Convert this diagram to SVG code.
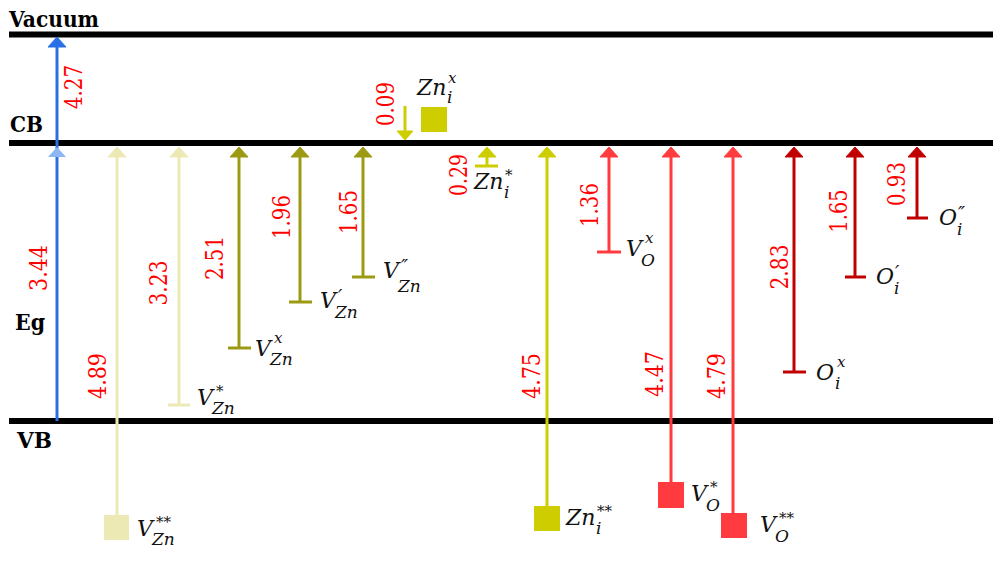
<svg xmlns="http://www.w3.org/2000/svg" xmlns:xlink="http://www.w3.org/1999/xlink" width="1000" height="569" viewBox="0 0 1000 569">
<style>
.band{stroke:#000;stroke-width:6}
.hdr{font-family:"DejaVu Serif",serif;font-weight:bold;font-size:22px;fill:#000}
.num{font-family:"DejaVu Serif",serif;font-size:25px;fill:#ff0000;text-anchor:middle}
.lbl{font-family:"DejaVu Serif",serif;font-style:italic;font-size:22px;fill:#111}
.sub{font-size:17px}
.sup{font-size:15px}
.prm{font-size:19px}
.shaft{stroke-width:3;fill:none}
.bar{stroke-width:3}
.blue{stroke:#2b6fe6;fill:#2b6fe6}
.blue2{fill:#8eb6f2}
.pale{stroke:#ede9b5;fill:#ede9b5}
.olive{stroke:#9c9a12;fill:#9c9a12}
.yel{stroke:#cdcd00;fill:#cdcd00}
.red{stroke:#ff3b3f;fill:#ff3b3f}
.dred{stroke:#c00000;fill:#c00000}
</style>
<defs>
<path id="ah" d="M0,0 L-9,10 L9,10 Z"/>
<path id="ahd" d="M0,0 L-8,-9 L8,-9 Z"/>
</defs>
<rect width="1000" height="569" fill="#fff"/>
<g id="bands">
<line class="band" x1="9" y1="34.5" x2="993" y2="34.5"/>
<line class="band" x1="9" y1="143" x2="993" y2="143"/>
<line class="band" x1="9" y1="421" x2="993" y2="421"/>
<text class="hdr" x="9" y="27" textLength="90" lengthAdjust="spacingAndGlyphs">Vacuum</text>
<text class="hdr" x="10" y="132" textLength="33" lengthAdjust="spacingAndGlyphs">CB</text>
<text class="hdr" x="15" y="330" textLength="30" lengthAdjust="spacingAndGlyphs">Eg</text>
<text class="hdr" x="17" y="448" textLength="35" lengthAdjust="spacingAndGlyphs">VB</text>
</g>
<g id="connectors">
<line class="shaft blue" x1="57" y1="421" x2="57" y2="45"/>
<use xlink:href="#ah" x="57" y="37" class="blue" stroke="none"/>
<use xlink:href="#ah" x="57" y="147" class="blue2"/>
<line class="shaft pale" x1="117" y1="520" x2="117" y2="155"/>
<use xlink:href="#ah" x="117" y="147" class="pale" stroke="none"/>
<line class="shaft pale" x1="179" y1="405" x2="179" y2="155"/>
<use xlink:href="#ah" x="179" y="147" class="pale" stroke="none"/>
<line class="bar pale" x1="168" y1="405" x2="190" y2="405"/>
<line class="shaft olive" x1="239" y1="348" x2="239" y2="155"/>
<use xlink:href="#ah" x="239" y="147" class="olive" stroke="none"/>
<line class="bar olive" x1="228" y1="348" x2="251" y2="348"/>
<line class="shaft olive" x1="300" y1="302" x2="300" y2="155"/>
<use xlink:href="#ah" x="300" y="147" class="olive" stroke="none"/>
<line class="bar olive" x1="289" y1="302" x2="312" y2="302"/>
<line class="shaft olive" x1="363" y1="277" x2="363" y2="155"/>
<use xlink:href="#ah" x="363" y="147" class="olive" stroke="none"/>
<line class="bar olive" x1="352" y1="277" x2="375" y2="277"/>
<line class="shaft yel" x1="405" y1="106" x2="405" y2="132"/>
<use xlink:href="#ahd" x="405" y="140" class="yel" stroke="none"/>
<line class="shaft yel" x1="487" y1="166" x2="487" y2="153"/>
<use xlink:href="#ah" x="487" y="147" class="yel" stroke="none"/>
<line class="bar yel" x1="475" y1="166" x2="498" y2="166"/>
<line class="shaft yel" x1="547" y1="510" x2="547" y2="155"/>
<use xlink:href="#ah" x="547" y="147" class="yel" stroke="none"/>
<line class="shaft red" x1="609" y1="252" x2="609" y2="155"/>
<use xlink:href="#ah" x="609" y="147" class="red" stroke="none"/>
<line class="bar red" x1="597" y1="252" x2="621" y2="252"/>
<line class="shaft red" x1="671" y1="485" x2="671" y2="155"/>
<use xlink:href="#ah" x="671" y="147" class="red" stroke="none"/>
<line class="shaft red" x1="733" y1="516" x2="733" y2="155"/>
<use xlink:href="#ah" x="733" y="147" class="red" stroke="none"/>
<line class="shaft dred" x1="794" y1="372" x2="794" y2="155"/>
<use xlink:href="#ah" x="794" y="147" class="dred" stroke="none"/>
<line class="bar dred" x1="783" y1="372" x2="806" y2="372"/>
<line class="shaft dred" x1="855" y1="277" x2="855" y2="155"/>
<use xlink:href="#ah" x="855" y="147" class="dred" stroke="none"/>
<line class="bar dred" x1="845" y1="277" x2="866" y2="277"/>
<line class="shaft dred" x1="917" y1="218" x2="917" y2="155"/>
<use xlink:href="#ah" x="917" y="147" class="dred" stroke="none"/>
<line class="bar dred" x1="907" y1="218" x2="928" y2="218"/>
</g>
<g id="values">
<text class="num" transform="translate(82,87) rotate(-90)" textLength="44" lengthAdjust="spacingAndGlyphs">4.27</text>
<text class="num" transform="translate(47,268) rotate(-90)" textLength="46" lengthAdjust="spacingAndGlyphs">3.44</text>
<text class="num" transform="translate(106,376) rotate(-90)" textLength="46" lengthAdjust="spacingAndGlyphs">4.89</text>
<text class="num" transform="translate(167,283) rotate(-90)" textLength="45" lengthAdjust="spacingAndGlyphs">3.23</text>
<text class="num" transform="translate(223,258) rotate(-90)" textLength="44" lengthAdjust="spacingAndGlyphs">2.51</text>
<text class="num" transform="translate(290,217) rotate(-90)" textLength="44" lengthAdjust="spacingAndGlyphs">1.96</text>
<text class="num" transform="translate(357,212) rotate(-90)" textLength="44" lengthAdjust="spacingAndGlyphs">1.65</text>
<text class="num" transform="translate(394,104) rotate(-90)" textLength="44" lengthAdjust="spacingAndGlyphs">0.09</text>
<text class="num" transform="translate(467,175) rotate(-90)" textLength="42" lengthAdjust="spacingAndGlyphs">0.29</text>
<text class="num" transform="translate(540,376) rotate(-90)" textLength="46" lengthAdjust="spacingAndGlyphs">4.75</text>
<text class="num" transform="translate(598,205) rotate(-90)" textLength="44" lengthAdjust="spacingAndGlyphs">1.36</text>
<text class="num" transform="translate(663,374) rotate(-90)" textLength="46" lengthAdjust="spacingAndGlyphs">4.47</text>
<text class="num" transform="translate(725,376) rotate(-90)" textLength="46" lengthAdjust="spacingAndGlyphs">4.79</text>
<text class="num" transform="translate(788,267) rotate(-90)" textLength="45" lengthAdjust="spacingAndGlyphs">2.83</text>
<text class="num" transform="translate(847,211) rotate(-90)" textLength="43" lengthAdjust="spacingAndGlyphs">1.65</text>
<text class="num" transform="translate(905,184) rotate(-90)" textLength="44" lengthAdjust="spacingAndGlyphs">0.93</text>
</g>
<g id="node-VZn2">
<rect x="104" y="515" width="25" height="25" fill="#ede9b5"/>
<text class="lbl" x="137" y="536">V<tspan class="sup" x="156" y="527">**</tspan><tspan class="sub" x="152" y="545">Zn</tspan></text>
</g>
<g id="node-VZn1">
<text class="lbl" x="197" y="405">V<tspan class="sup" x="216" y="396">*</tspan><tspan class="sub" x="212" y="414">Zn</tspan></text>
</g>
<g id="node-VZnx">
<text class="lbl" x="255" y="356">V<tspan class="sup" x="274" y="343">x</tspan><tspan class="sub" x="270" y="365">Zn</tspan></text>
</g>
<g id="node-VZnp">
<text class="lbl" x="320" y="308">V<tspan class="prm" x="338" y="303">′</tspan><tspan class="sub" x="335" y="318">Zn</tspan></text>
</g>
<g id="node-VZnpp">
<text class="lbl" x="383" y="278">V<tspan class="prm" x="401" y="273">″</tspan><tspan class="sub" x="398" y="292">Zn</tspan></text>
</g>
<g id="node-Znix">
<rect x="421" y="107" width="26" height="25" fill="#cdcd00"/>
<text class="lbl" x="417" y="95">Zn<tspan class="sup" x="448" y="83">x</tspan><tspan class="sub" x="447" y="103">i</tspan></text>
</g>
<g id="node-Zni1">
<text class="lbl" x="474" y="189">Zn<tspan class="sup" x="505" y="180">*</tspan><tspan class="sub" x="504" y="198">i</tspan></text>
</g>
<g id="node-Zni2">
<rect x="534" y="506" width="26" height="25" fill="#cdcd00"/>
<text class="lbl" x="566" y="525">Zn<tspan class="sup" x="597" y="516">**</tspan><tspan class="sub" x="596" y="534">i</tspan></text>
</g>
<g id="node-VOx">
<text class="lbl" x="626" y="256">V<tspan class="sup" x="645" y="243">x</tspan><tspan class="sub" x="641" y="266">O</tspan></text>
</g>
<g id="node-VO1">
<rect x="658" y="482" width="26" height="26" fill="#ff3b3f"/>
<text class="lbl" x="691" y="501">V<tspan class="sup" x="710" y="492">*</tspan><tspan class="sub" x="706" y="511">O</tspan></text>
</g>
<g id="node-VO2">
<rect x="721" y="513" width="26" height="25" fill="#ff3b3f"/>
<text class="lbl" x="760" y="532">V<tspan class="sup" x="779" y="523">**</tspan><tspan class="sub" x="775" y="542">O</tspan></text>
</g>
<g id="node-Oix">
<text class="lbl" x="816" y="380">O<tspan class="sup" x="837" y="367">x</tspan><tspan class="sub" x="835" y="389">i</tspan></text>
</g>
<g id="node-Oip">
<text class="lbl" x="876" y="284">O<tspan class="prm" x="895" y="279">′</tspan><tspan class="sub" x="894" y="294">i</tspan></text>
</g>
<g id="node-Oipp">
<text class="lbl" x="939" y="225">O<tspan class="prm" x="958" y="220">″</tspan><tspan class="sub" x="957" y="235">i</tspan></text>
</g>
</svg>
